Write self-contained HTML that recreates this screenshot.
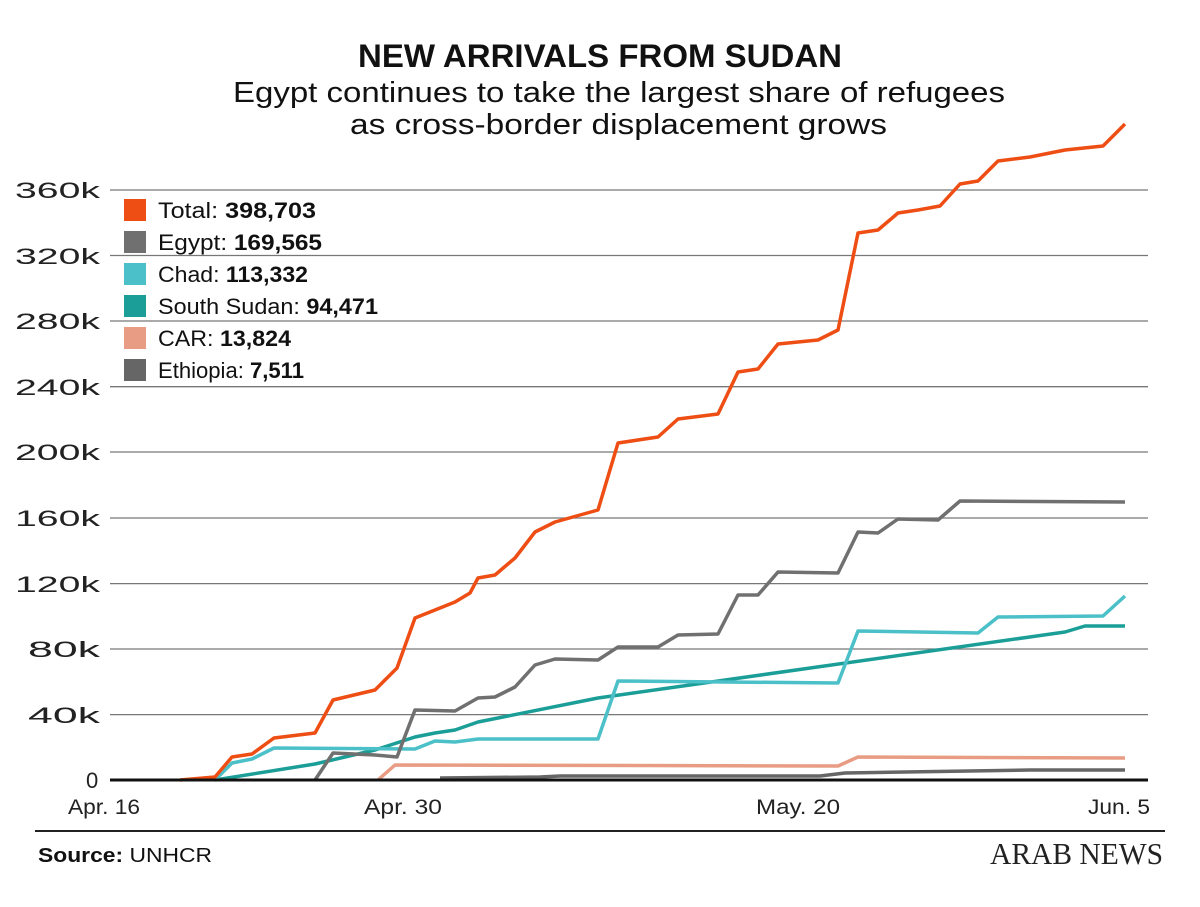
<!DOCTYPE html>
<html><head><meta charset="utf-8"><style>
body{margin:0;background:#fff;width:1200px;height:902px;overflow:hidden;font-family:"Liberation Sans",sans-serif;}
</style></head><body>
<svg width="1200" height="902" xmlns="http://www.w3.org/2000/svg" font-family="Liberation Sans, sans-serif">
<text x="358" y="67" textLength="484" lengthAdjust="spacingAndGlyphs" font-size="32" font-weight="bold" fill="#111">NEW ARRIVALS FROM SUDAN</text>
<text x="233" y="102" textLength="772" lengthAdjust="spacingAndGlyphs" font-size="29" fill="#111">Egypt continues to take the largest share of refugees</text>
<text x="350" y="134" textLength="537" lengthAdjust="spacingAndGlyphs" font-size="29" fill="#111">as cross-border displacement grows</text>
<g stroke="#777" stroke-width="1.3">
<line x1="110" x2="1148" y1="190" y2="190"/><line x1="110" x2="1148" y1="255.5" y2="255.5"/><line x1="110" x2="1148" y1="321" y2="321"/><line x1="110" x2="1148" y1="386.7" y2="386.7"/><line x1="110" x2="1148" y1="452" y2="452"/><line x1="110" x2="1148" y1="518" y2="518"/><line x1="110" x2="1148" y1="583.6" y2="583.6"/><line x1="110" x2="1148" y1="649" y2="649"/><line x1="110" x2="1148" y1="714.6" y2="714.6"/>
</g>
<g font-size="22" fill="#222">
<text x="15" y="198" textLength="85" lengthAdjust="spacingAndGlyphs">360k</text><text x="15" y="264" textLength="85" lengthAdjust="spacingAndGlyphs">320k</text><text x="15" y="329" textLength="85" lengthAdjust="spacingAndGlyphs">280k</text><text x="15" y="395" textLength="85" lengthAdjust="spacingAndGlyphs">240k</text><text x="15" y="460" textLength="85" lengthAdjust="spacingAndGlyphs">200k</text><text x="15" y="526" textLength="85" lengthAdjust="spacingAndGlyphs">160k</text><text x="15" y="592" textLength="85" lengthAdjust="spacingAndGlyphs">120k</text><text x="28" y="657" textLength="72" lengthAdjust="spacingAndGlyphs">80k</text><text x="28" y="723" textLength="72" lengthAdjust="spacingAndGlyphs">40k</text><text x="86" y="788">0</text>
</g>
<g fill="none" stroke-width="3.5" stroke-linejoin="round">
<polyline stroke="#666" points="440,778 540,777 560,776 820,776 845,773 1030,770 1125,770"/>
<polyline stroke="#e89c84" points="378,780 395,765 838,766 858,757 1125,758"/>
<polyline stroke="#1b9e98" points="215,780 315,764 375,750 415,737 435,733 455,730 478,722 598,698 1065,632 1085,626 1125,626"/>
<polyline stroke="#4bc0c8" points="215,780 232,763 252,759 274,748 415,749 435,741 455,742 478,739 598,739 618,681 838,683 858,631 978,633 998,617 1103,616 1125,596"/>
<polyline stroke="#707070" points="315,780 333,753 375,755 397,757 415,710 455,711 478,698 495,697 515,687 535,665 555,659 598,660 618,647 658,647 678,635 718,634 738,595 758,595 778,572 838,573 858,532 878,533 898,519 938,520 960,501 1125,502"/>
<polyline stroke="#ee4e14" points="180,780 215,777 232,757 252,754 274,738 315,733 333,700 375,690 397,668 415,618 455,602 470,593 478,578 495,575 515,558 535,532 555,522 598,510 618,443 658,437 678,419 718,414 738,372 758,369 778,344 818,340 838,330 858,233 878,230 898,213 918,210 940,206 960,184 978,181 998,161 1030,157 1065,150 1103,146 1125,124"/>
</g>
<line x1="110" x2="1148" y1="780" y2="780" stroke="#111" stroke-width="3"/>
<g font-size="21" fill="#222">
<text x="68" y="814" textLength="72" lengthAdjust="spacingAndGlyphs">Apr. 16</text><text x="364" y="814" textLength="78" lengthAdjust="spacingAndGlyphs">Apr. 30</text><text x="756" y="814" textLength="84" lengthAdjust="spacingAndGlyphs">May. 20</text><text x="1088" y="814" textLength="62" lengthAdjust="spacingAndGlyphs">Jun. 5</text>
</g>
<line x1="35" x2="1165" y1="831" y2="831" stroke="#222" stroke-width="2"/>
<text x="38" y="862" font-size="20" fill="#111" textLength="174" lengthAdjust="spacingAndGlyphs"><tspan font-weight="bold">Source:</tspan> UNHCR</text>
<text x="990" y="864" textLength="173" lengthAdjust="spacingAndGlyphs" font-size="31" font-family="Liberation Serif, serif" fill="#222">ARAB NEWS</text>
<g font-size="22" fill="#111">
<rect x="124" y="199" width="22" height="22" fill="#ee4e14"/><text x="158" y="218" textLength="158" lengthAdjust="spacingAndGlyphs">Total: <tspan font-weight="bold">398,703</tspan></text>
<rect x="124" y="231" width="22" height="22" fill="#707070"/><text x="158" y="250" textLength="164" lengthAdjust="spacingAndGlyphs">Egypt: <tspan font-weight="bold">169,565</tspan></text>
<rect x="124" y="263" width="22" height="22" fill="#4bc0c8"/><text x="158" y="282" textLength="150" lengthAdjust="spacingAndGlyphs">Chad: <tspan font-weight="bold">113,332</tspan></text>
<rect x="124" y="295" width="22" height="22" fill="#1b9e98"/><text x="158" y="314" textLength="220" lengthAdjust="spacingAndGlyphs">South Sudan: <tspan font-weight="bold">94,471</tspan></text>
<rect x="124" y="327" width="22" height="22" fill="#e89c84"/><text x="158" y="346" textLength="133" lengthAdjust="spacingAndGlyphs">CAR: <tspan font-weight="bold">13,824</tspan></text>
<rect x="124" y="359" width="22" height="22" fill="#666"/><text x="158" y="378" textLength="146" lengthAdjust="spacingAndGlyphs">Ethiopia: <tspan font-weight="bold">7,511</tspan></text>
</g>
</svg>
</body></html>
